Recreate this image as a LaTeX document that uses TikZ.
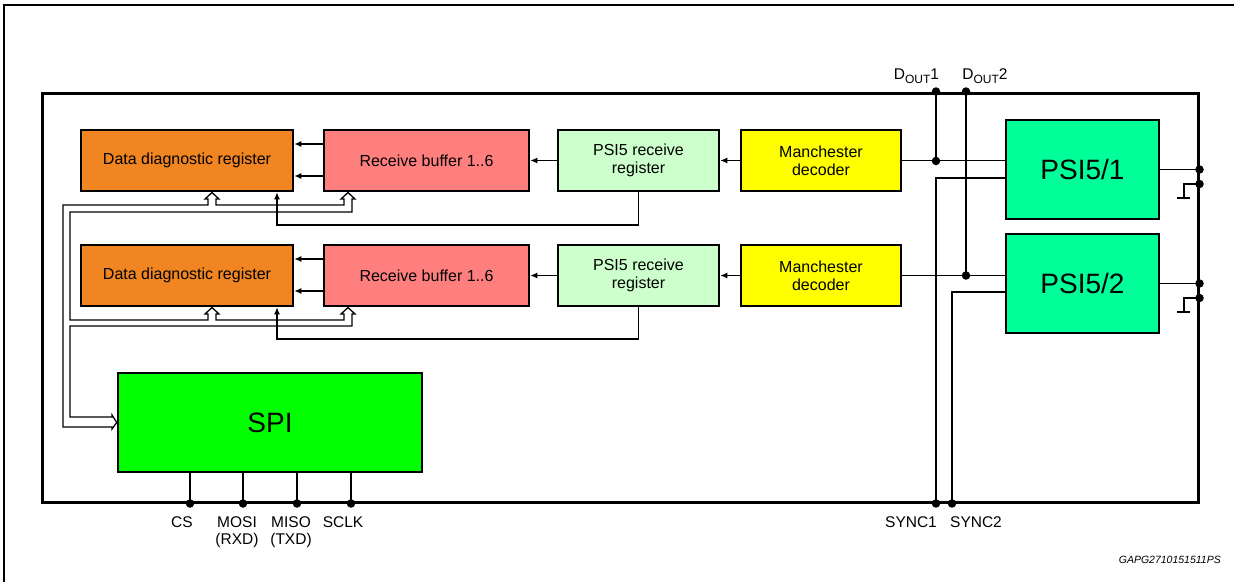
\documentclass[tikz,border=0pt]{standalone}
\usepackage{fontspec}
\setmainfont{Liberation Sans}
\usetikzlibrary{arrows.meta}
\definecolor{cOrange}{HTML}{F08522}
\definecolor{cPink}{HTML}{FF7F7F}
\definecolor{cLightGreen}{HTML}{CCFFCC}
\definecolor{cYellow}{HTML}{FFFF00}
\definecolor{cPsi}{HTML}{00FF99}
\definecolor{cSpi}{HTML}{00FF00}
\begin{document}
\begin{tikzpicture}[x=1pt,y=-1pt,
  blk/.style={draw=black, line width=2.5pt, inner sep=0pt, align=center,
    font=\fontsize{16}{18}\selectfont},
  bigblk/.style={blk, font=\fontsize{28}{32}\selectfont},
  wire/.style={line width=1.3pt},
  arr/.style={wire, -{Latex[length=7pt,width=6pt]}},
  dotn/.style={circle, fill=black, inner sep=0pt, minimum size=8.5pt},
  pinlbl/.style={font=\fontsize{15.5}{17}\selectfont, align=center, inner sep=0pt},
]
\useasboundingbox (0,0) rectangle (1234,582);
% outer frame
\draw[line width=2pt] (4,582) -- (4,5) -- (1234,5);

% chip outline
\node[draw, line width=3pt, inner sep=0pt, minimum width=1156pt, minimum height=409pt] (chip) at (620,297.5) {};

% row 1
\node[blk, fill=cOrange, minimum width=212pt, minimum height=61pt] (ddr1) at (187,160.5) {Data diagnostic register};
\node[blk, fill=cPink, minimum width=205pt, minimum height=61pt] (rb1) at (426.5,160.5) {Receive buffer 1..6};
\node[blk, fill=cLightGreen, minimum width=161pt, minimum height=61pt] (prr1) at (638.5,160.5) {PSI5 receive\\register};
\node[blk, fill=cYellow, minimum width=160pt, minimum height=61pt] (md1) at (821,160.5) {Manchester\\decoder};
\node[bigblk, fill=cPsi, minimum width=153pt, minimum height=99pt] (psi1) at (1082.5,169.5) {PSI5/1};

% row 2
\node[blk, fill=cOrange, minimum width=212pt, minimum height=61pt] (ddr2) at (187,275.5) {Data diagnostic register};
\node[blk, fill=cPink, minimum width=205pt, minimum height=61pt] (rb2) at (426.5,275.5) {Receive buffer 1..6};
\node[blk, fill=cLightGreen, minimum width=161pt, minimum height=61pt] (prr2) at (638.5,275.5) {PSI5 receive\\register};
\node[blk, fill=cYellow, minimum width=160pt, minimum height=61pt] (md2) at (821,275.5) {Manchester\\decoder};
\node[bigblk, fill=cPsi, minimum width=153pt, minimum height=99pt] (psi2) at (1082.5,283.5) {PSI5/2};

% SPI
\node[bigblk, fill=cSpi, minimum width=304pt, minimum height=99pt] (spi) at (270,422.5) {SPI};

% data flow arrows
\draw[arr] (rb1.west |- 0,144) -- (ddr1.east |- 0,144);
\draw[arr] (rb1.west |- 0,176) -- (ddr1.east |- 0,176);
\draw[arr] (prr1.west) -- (rb1.east);
\draw[arr] (md1.west) -- (prr1.east);
\draw[arr] (rb2.west |- 0,259) -- (ddr2.east |- 0,259);
\draw[arr] (rb2.west |- 0,291) -- (ddr2.east |- 0,291);
\draw[arr] (prr2.west) -- (rb2.east);
\draw[arr] (md2.west) -- (prr2.east);

% feedback from PSI5 receive register to data diagnostic register
\draw[arr] (prr1.south) |- (277,225) -- (ddr1.south -| 277,0);
\draw[arr] (prr2.south) |- (277,339) -- (ddr2.south -| 277,0);

% hollow bus
\draw[wire, line join=miter]
  (112,427) -- (63,427) -- (63,205) -- (208,205) -- (208,199) -- (205,199) -- (212,192.5)
  -- (219,199) -- (216,199) -- (216,205) -- (344,205) -- (344,199) -- (341,199)
  -- (348,192.5) -- (355,199) -- (352,199) -- (352,212) -- (70,212) -- (70,320)
  -- (208,320) -- (208,314) -- (205,314) -- (212,307.5) -- (219,314) -- (216,314)
  -- (216,320) -- (344,320) -- (344,314) -- (341,314) -- (348,307.5) -- (355,314)
  -- (352,314) -- (352,326) -- (70,326) -- (70,417) -- (112,417) -- (112,415)
  -- (spi.west) -- (112,429) -- cycle;

% Manchester to PSI5
\draw[wire] (md1.east) -- (psi1.west |- md1.east);
\draw[wire] (md2.east) -- (psi2.west |- md2.east);

% DOUT lines
\draw[wire] (chip.north -| 936,0) -- (936,161);
\draw[wire] (chip.north -| 966,0) -- (966,275.5);
\node[dotn] (d1top) at (chip.north -| 936,0) {};
\node[dotn] (d2top) at (chip.north -| 966,0) {};
\node[dotn] (d1j) at (936,161) {};
\node[dotn] (d2j) at (966,275.5) {};

% SYNC lines
\draw[wire] (psi1.west |- 0,178) -| (chip.south -| 936,0);
\draw[wire] (psi2.west |- 0,292) -| (chip.south -| 952,0);
\node[dotn] (s1) at (chip.south -| 936,0) {};
\node[dotn] (s2) at (chip.south -| 952,0) {};

% right side pins
\draw[wire] (psi1.east) -- (chip.east |- psi1.east);
\draw[wire] (psi2.east) -- (chip.east |- psi2.east);
\node[dotn] (p1o) at (chip.east |- psi1.east) {};
\node[dotn] (p2o) at (chip.east |- psi2.east) {};
\node[dotn] (g1) at (chip.east |- 0,184) {};
\node[dotn] (g2) at (chip.east |- 0,298) {};
\draw[wire] (g1.center) -- (1184,184) -- (1184,198);
\draw[line width=2.5pt] (1177,198) -- (1190,198);
\draw[wire] (g2.center) -- (1184,298) -- (1184,312);
\draw[line width=2.5pt] (1177,312) -- (1190,312);

% SPI pins
\foreach \x/\n in {190/cs,243/mosi,297/miso,351/sclk}{
  \draw[wire] (spi.south -| \x,0) -- (chip.south -| \x,0);
  \node[dotn] (pin\n) at (chip.south -| \x,0) {};
}

% labels
\node[pinlbl, anchor=base] (lcs) at (182,527.5) {CS};
\node[pinlbl, anchor=base] (lmosi) at (237,544.5) {MOSI\\(RXD)};
\node[pinlbl, anchor=base] (lmiso) at (291,544.5) {MISO\\(TXD)};
\node[pinlbl, anchor=base] (lsclk) at (343,527.5) {SCLK};
\node[pinlbl, anchor=base] (lsync1) at (911,527.5) {SYNC1};
\node[pinlbl, anchor=base] (lsync2) at (976,527.5) {SYNC2};
\node[pinlbl, anchor=base] (ldout1) at (916.5,79.5) {D\raisebox{-3.5pt}{\fontsize{12}{12}\selectfont OUT}1};
\node[pinlbl, anchor=base] (ldout2) at (985,79.5) {D\raisebox{-3.5pt}{\fontsize{12}{12}\selectfont OUT}2};
\node[anchor=base east, inner sep=0pt, font=\fontsize{10.5}{12}\selectfont\itshape] (code) at (1221,563) {GAPG2710151511PS};
\end{tikzpicture}
\end{document}
